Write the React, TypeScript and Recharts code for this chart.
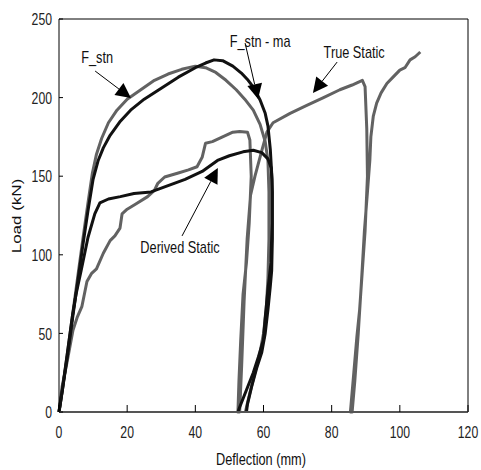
import React from 'react';
import { LineChart, Line, XAxis, YAxis, ReferenceLine, ReferenceDot } from 'recharts';

// deflection (mm), load (kN)
const fStn: [number, number][] = [
    [0, 0], [1, 15], [2.5, 38], [4, 62], [5.5, 86], [7, 110], [8.5, 133], [9.8, 152], [11, 164],
    [12.5, 174], [14.5, 184], [17, 192], [20, 199], [24, 205], [28, 211], [32, 215], [36, 218],
    [40, 220], [43, 219], [46, 216], [49, 211], [52, 205], [54.5, 199], [57, 192], [59, 183],
    [60.5, 172], [61.3, 160], [61.6, 140], [61.6, 110], [61.3, 85], [60.8, 65], [60, 50],
    [59, 38], [57.5, 25], [56, 12], [55, 3], [54.7, 0],
];

const fStnMa: [number, number][] = [
    [0, 0], [1, 14], [2.5, 36], [4, 60], [5.5, 83], [7, 106], [8.5, 128], [10, 148], [11.5, 160],
    [13, 168], [15, 176], [18, 185], [21, 192], [25, 199], [30, 206], [35, 213], [40, 219],
    [43, 222], [45.5, 224], [48, 223.5], [51, 220], [53.5, 215.6], [55.5, 211], [57, 206.7],
    [59, 198.5], [60.5, 190], [61.3, 182], [62, 167], [62.5, 148], [62.5, 120], [62.2, 95],
    [61.3, 78], [60.5, 60], [60, 46], [58.5, 35], [57, 25], [55, 14], [53, 3], [52.5, 0],
];

const derivedStatic: [number, number][] = [
    [0, 0], [1, 14], [2.5, 38], [4, 62], [5, 75], [6.5, 90], [8.5, 111], [10.5, 126], [12, 133],
    [14.5, 135.5], [18, 137], [22, 139], [27, 140], [32, 144], [37, 148], [42, 153], [46.5, 160],
    [50, 163], [54, 165.5], [57, 166.5], [59.5, 165], [61.3, 161], [62.3, 155], [62.6, 140],
    [62.6, 110], [62.4, 90], [62, 80], [61.3, 65], [60.5, 50], [59.5, 38], [58, 28], [56.5, 16],
    [55.3, 5], [55, 0],
];

// three load cycles in one trace
const trueStatic: [number, number][] = [
    [0, 0], [0.9, 16], [2.3, 31], [4.1, 52], [5.3, 60], [6.7, 67], [8.2, 83], [9.5, 88], [11, 91],
    [13, 101], [15, 109], [16.4, 112], [17.9, 117], [18.5, 126], [20, 129], [22.3, 132], [26, 137],
    [28, 141], [29, 145.5], [31, 149.5], [35, 152], [38, 154], [40.5, 156], [42, 162], [43, 171],
    [45, 172], [48, 175], [51, 178], [53, 178.5], [55.3, 178], [56, 173], [56.4, 150], [55.8, 120],
    [55, 95], [54, 75], [53.3, 45], [52.8, 20], [52.5, 0],
    [53, 0], [53.6, 30], [54.3, 70], [55.2, 110], [56.2, 138], [57.5, 150], [59.6, 167], [61, 178],
    [62.8, 184], [67.8, 190], [72.7, 195], [77.6, 200], [82.4, 205], [86, 208], [89, 211],
    [89.8, 207], [90.3, 180], [90.5, 150], [89.8, 115], [89, 90], [88.2, 65], [87.4, 48],
    [86.5, 25], [85.7, 5], [85.5, 0],
    [86, 0], [86.8, 20], [87.8, 50], [88.8, 85], [89.6, 115], [90.5, 140], [91.2, 160],
    [91.5, 175], [92.2, 188], [93.2, 196.5], [94.5, 203], [96.2, 209], [98, 213], [100, 217.5],
    [101.5, 219], [103, 224], [104.5, 226], [106, 229],
];

const xTicks = [0, 20, 40, 60, 80, 100, 120];
const yTicks = [0, 50, 100, 150, 200, 250];

const toRows = (pts: [number, number][]) => pts.map(([x, y]) => ({ x, y }));

const FONT = '"Liberation Sans", Arial, sans-serif';
const GRAY = '#626262';
const BLACK = '#111';

// annotation arrows: label end -> curve
const arrows = [
    { from: { x: 10.6, y: 216.9 }, to: { x: 21.1, y: 199.7 } },
    { from: { x: 54.6, y: 234.7 }, to: { x: 58.4, y: 199.1 } },
    { from: { x: 81.6, y: 222.6 }, to: { x: 74.5, y: 202.9 } },
    { from: { x: 36.1, y: 112.0 }, to: { x: 46.6, y: 155.2 } },
];

const notes = [
    { text: 'F_stn', x: 11.2, y: 225.8 },
    { text: 'F_stn - ma', x: 59.0, y: 236.0 },
    { text: 'True Static', x: 86.6, y: 229.0 },
    { text: 'Derived Static', x: 35.5, y: 105.0 },
];

const ArrowShape = (p: any) => {
    const { x1, y1, x2, y2 } = p;
    const dx = x2 - x1;
    const dy = y2 - y1;
    const len = Math.sqrt(dx * dx + dy * dy) || 1;
    const ux = dx / len;
    const uy = dy / len;
    const hl = 15;
    const hw = 7.5;
    const bx = x2 - ux * hl;
    const by = y2 - uy * hl;
    const pts = `${x2},${y2} ${bx - uy * hw},${by + ux * hw} ${bx + uy * hw},${by - ux * hw}`;
    return (
        <g>
            <line x1={x1} y1={y1} x2={bx} y2={by} stroke="#000" strokeWidth={1} />
            <polygon points={pts} fill="#000" />
        </g>
    );
};

const noteShape = (text: string) => (p: any) => (
    <text
        transform={`translate(${p.cx},${p.cy}) scale(0.75,1)`}
        textAnchor="middle"
        dy="0.36em"
        fontSize={17}
        fontFamily={FONT}
        fill="#111"
    >
        {text}
    </text>
);

const XTick = ({ x, y, payload }: any) => (
    <text transform={`translate(${x},${y}) scale(0.72,1)`} textAnchor="middle" fontSize={17} fontFamily={FONT} fill="#222">
        {payload.value}
    </text>
);

const YTick = ({ x, y, payload }: any) => (
    <text transform={`translate(${x},${y}) scale(0.72,1)`} textAnchor="end" dy="0.36em" fontSize={17} fontFamily={FONT} fill="#222">
        {payload.value}
    </text>
);

export default function App() {
    return (
        <div style={{ position: 'relative', width: 481, height: 470, boxSizing: 'border-box', padding: '8px 0 0 8px' }}>
            {/* chart fills the whole window, so the 120 label is not cut */}
            <style>{'html { overflow: hidden; } body { margin: 0; }'}</style>
            <LineChart width={473} height={462} margin={{ top: 11, right: 13, left: 11, bottom: 18 }}>
                <XAxis
                    type="number"
                    dataKey="x"
                    domain={[0, 120]}
                    ticks={xTicks}
                    height={40}
                    tickSize={-7}
                    tickMargin={33}
                    tick={XTick}
                    axisLine={{ stroke: '#555', strokeWidth: 2 }}
                    tickLine={{ stroke: '#000' }}
                />
                <YAxis
                    type="number"
                    domain={[0, 250]}
                    ticks={yTicks}
                    width={40}
                    tickSize={-4}
                    tickMargin={11}
                    tick={YTick}
                    axisLine={{ stroke: '#000' }}
                    tickLine={{ stroke: '#000' }}
                />
                <ReferenceLine y={250} stroke="#000" />
                <ReferenceLine x={120} stroke="#000" />
                <Line data={toRows(trueStatic)} dataKey="y" type="linear" dot={false} stroke={GRAY} strokeWidth={3} strokeLinejoin="round" isAnimationActive={false} />
                <Line data={toRows(fStn)} dataKey="y" type="linear" dot={false} stroke={GRAY} strokeWidth={3} strokeLinejoin="round" isAnimationActive={false} />
                <Line data={toRows(derivedStatic)} dataKey="y" type="linear" dot={false} stroke={BLACK} strokeWidth={3} strokeLinejoin="round" isAnimationActive={false} />
                <Line data={toRows(fStnMa)} dataKey="y" type="linear" dot={false} stroke={BLACK} strokeWidth={3} strokeLinejoin="round" isAnimationActive={false} />
                {arrows.map((a, i) => (
                    <ReferenceLine key={`arrow-${i}`} segment={[a.from, a.to]} shape={ArrowShape} />
                ))}
                {notes.map((n, i) => (
                    <ReferenceDot key={`note-${i}`} x={n.x} y={n.y} r={0} shape={noteShape(n.text)} />
                ))}
            </LineChart>
            {/* axis titles */}
            <svg width={473} height={462} style={{ position: 'absolute', left: 8, top: 8, pointerEvents: 'none' }}>
                <text transform="translate(253,457) scale(0.75,1)" textAnchor="middle" fontSize={17} fontFamily={FONT} fill="#111">
                    Deflection (mm)
                </text>
                <text transform="translate(13,208) rotate(-90) scale(1,0.75)" textAnchor="middle" fontSize={17} fontFamily={FONT} fill="#111">
                    Load (kN)
                </text>
            </svg>
        </div>
    );
}
